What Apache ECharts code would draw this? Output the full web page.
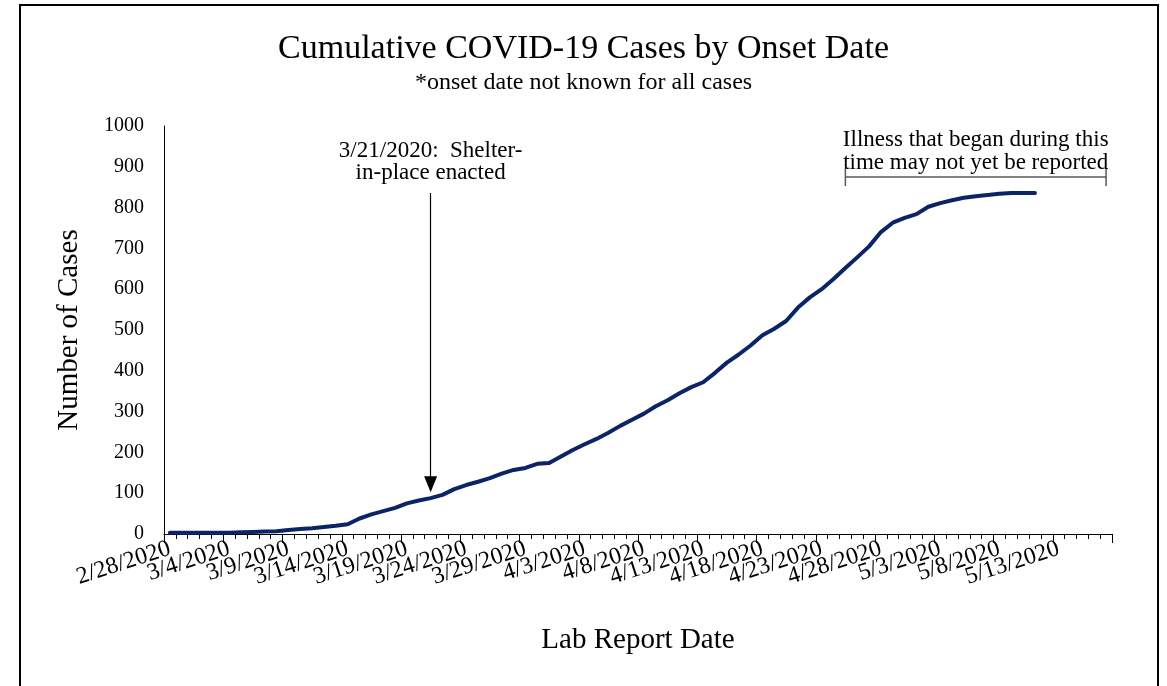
<!DOCTYPE html>
<html>
<head>
<meta charset="utf-8">
<script src="https://cdn.jsdelivr.net/npm/echarts@6/dist/echarts.min.js"></script>
<style>html,body{margin:0;padding:0;background:#fff;}#c{width:1167px;height:686px;}</style>
</head>
<body>
<div id="c"></div>
<script>
const dates = [
  '2/28/2020','2/29/2020',
  '3/1/2020','3/2/2020','3/3/2020','3/4/2020','3/5/2020','3/6/2020','3/7/2020','3/8/2020','3/9/2020','3/10/2020',
  '3/11/2020','3/12/2020','3/13/2020','3/14/2020','3/15/2020','3/16/2020','3/17/2020','3/18/2020','3/19/2020','3/20/2020',
  '3/21/2020','3/22/2020','3/23/2020','3/24/2020','3/25/2020','3/26/2020','3/27/2020','3/28/2020','3/29/2020','3/30/2020','3/31/2020',
  '4/1/2020','4/2/2020','4/3/2020','4/4/2020','4/5/2020','4/6/2020','4/7/2020','4/8/2020','4/9/2020','4/10/2020',
  '4/11/2020','4/12/2020','4/13/2020','4/14/2020','4/15/2020','4/16/2020','4/17/2020','4/18/2020','4/19/2020','4/20/2020',
  '4/21/2020','4/22/2020','4/23/2020','4/24/2020','4/25/2020','4/26/2020','4/27/2020','4/28/2020','4/29/2020','4/30/2020',
  '5/1/2020','5/2/2020','5/3/2020','5/4/2020','5/5/2020','5/6/2020','5/7/2020','5/8/2020','5/9/2020','5/10/2020',
  '5/11/2020','5/12/2020','5/13/2020','5/14/2020','5/15/2020','5/16/2020','5/17/2020'
];
const cumulativeCases = [
  3, 3, 3, 3, 3, 3, 4, 5, 6, 7,
  10, 12, 14, 17, 20, 24, 38, 48, 56, 64,
  75, 82, 88, 96, 110, 120, 128, 137, 148, 157,
  162, 172, 174, 190, 206, 220, 233, 248, 265, 280,
  295, 313, 328, 345, 360, 372, 395, 420, 440, 462,
  487, 503, 522, 555, 580, 600, 625, 652, 678, 705,
  740, 763, 775, 784, 802, 811, 818, 824, 828, 831,
  834, 836, 836, 836, null, null, null, null, null, null
];
const xTickLabels = ['2/28/2020','3/4/2020','3/9/2020','3/14/2020','3/19/2020','3/24/2020','3/29/2020','4/3/2020',
  '4/8/2020','4/13/2020','4/18/2020','4/23/2020','4/28/2020','5/3/2020','5/8/2020','5/13/2020'];
const yTicks = { min: 0, max: 1000, interval: 100 };
const labelEvery = 5;
const shelterDate = '3/21/2020';
const shelterText = '3/21/2020:  Shelter-\nin-place enacted';
const arrowRange = [836, 122];
const bracketRange = ['4/25/2020', '5/17/2020'];
const bracketLevel = 875;
const bracketText = 'Illness that began during this\ntime may not yet be reported';

const FONT = 'Liberation Serif';
const borderRect = {
  id: 'frame', type: 'rect', shape: { x: 20, y: 5, width: 1138, height: 720 },
  style: { fill: 'none', stroke: '#000', lineWidth: 2 }, silent: true, z: 100
};
const chart = echarts.init(document.getElementById('c'), null, { renderer: 'canvas' });
chart.setOption({
  backgroundColor: '#fff',
  animation: false,
  title: {
    text: 'Cumulative COVID-19 Cases by Onset Date',
    subtext: '*onset date not known for all cases',
    left: 'center',
    top: 27,
    itemGap: 5,
    textStyle: { fontFamily: FONT, fontSize: 34, fontWeight: 'normal', color: '#000' },
    subtextStyle: { fontFamily: FONT, fontSize: 24, color: '#000' }
  },
  graphic: [borderRect],
  grid: { left: 164, right: 55, top: 126, bottom: 152 },
  xAxis: [{
    type: 'category', data: dates, boundaryGap: true,
    name: 'Lab Report Date', nameLocation: 'middle', nameGap: 92,
    nameTextStyle: { fontFamily: FONT, fontSize: 29, color: '#000' },
    axisLine: { show: true, lineStyle: { color: '#000', width: 1 } },
    axisTick: { show: true, interval: 0, length: 5, lineStyle: { color: '#000', width: 1 } },
    axisLabel: { show: false }
  }, {
    type: 'category', data: dates, boundaryGap: true, position: 'bottom', offset: 0,
    axisLine: { show: false },
    axisTick: { show: true, interval: labelEvery - 1, length: 9, lineStyle: { color: '#000', width: 1 } },
    axisLabel: { show: false }
  }],
  yAxis: {
    type: 'value', min: yTicks.min, max: yTicks.max, interval: yTicks.interval,
    name: 'Number of Cases', nameLocation: 'middle', nameGap: 80,
    nameTextStyle: { fontFamily: FONT, fontSize: 29, color: '#000' },
    splitLine: { show: false },
    axisLine: { show: true, lineStyle: { color: '#000', width: 1 } },
    axisTick: { show: false },
    axisLabel: { fontFamily: FONT, fontSize: 20, color: '#000', margin: 20, formatter: v => String(v) }
  },
  series: [{
    type: 'line', data: cumulativeCases, xAxisIndex: 0,
    showSymbol: false, symbol: 'none', connectNulls: false,
    lineStyle: { color: '#0b2466', width: 4, cap: 'round', join: 'round' },
    itemStyle: { color: '#0b2466' },
    markLine: {
      silent: true, animation: false,
      data: [
        [
          { coord: [shelterDate, arrowRange[0]], symbol: 'none',
            lineStyle: { color: '#000', width: 1.2, type: 'solid' },
            label: { show: true, position: 'start', formatter: shelterText, distance: 9,
              fontFamily: FONT, fontSize: 23, color: '#000', lineHeight: 22, align: 'center' } },
          { coord: [shelterDate, arrowRange[1]], symbol: 'triangle', symbolSize: [13, 16] }
        ],
        [
          { coord: [bracketRange[0], bracketLevel], symbol: 'rect', symbolSize: [18, 1.5],
            lineStyle: { color: '#595959', width: 1.5, type: 'solid' },
            label: { show: true, position: 'insideMiddleTop', formatter: bracketText, distance: 3,
              fontFamily: FONT, fontSize: 23, color: '#000', lineHeight: 23, align: 'center' } },
          { coord: [bracketRange[1], bracketLevel], symbol: 'rect', symbolSize: [18, 1.5] }
        ]
      ]
    }
  }]
});

// Rotated date labels, positioned through the axis scale.
const baseY = chart.convertToPixel({ yAxisIndex: 0 }, yTicks.min);
const labelGraphics = xTickLabels.map((lab, i) => {
  const px = chart.convertToPixel({ xAxisIndex: 0 }, lab);
  return {
    id: 'xl' + i, type: 'text', x: px, y: baseY + 14, rotation: 18 * Math.PI / 180,
    silent: true,
    style: { text: lab, fontFamily: FONT, fontSize: 24, fill: '#000', align: 'right', verticalAlign: 'middle' }
  };
});
chart.setOption({ graphic: [borderRect].concat(labelGraphics) });
</script>
</body>
</html>
